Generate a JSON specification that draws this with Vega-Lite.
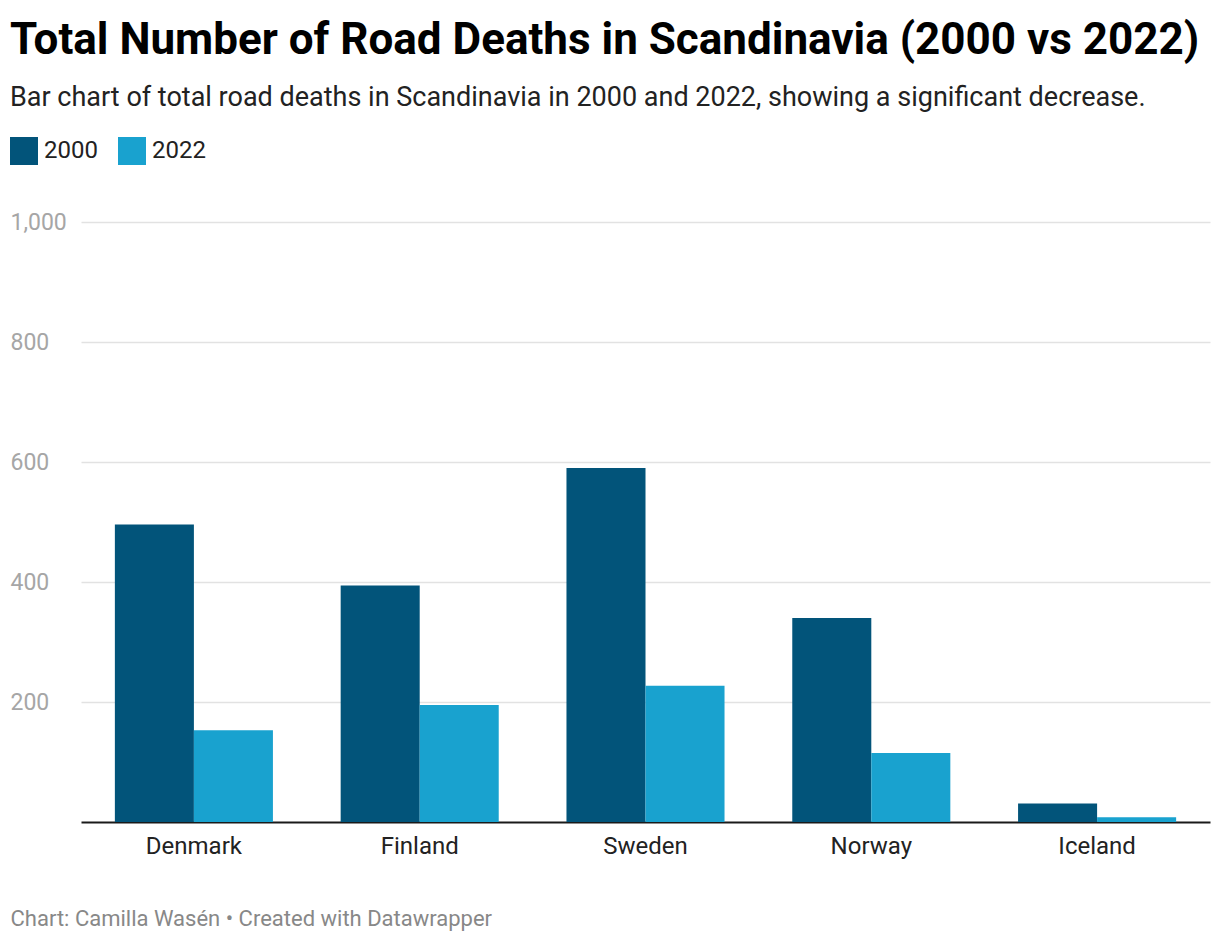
{
  "$schema": "https://vega.github.io/schema/vega-lite/v6.json",
  "width": 1129,
  "height": 600,
  "autosize": "none",
  "padding": {"left": 81, "top": 222, "right": 10, "bottom": 122},
  "background": "white",
  "config": {"font": "Roboto", "view": {"stroke": null}},
  "title": {
    "text": "Total Number of Road Deaths in Scandinavia (2000 vs 2022)",
    "subtitle": "Bar chart of total road deaths in Scandinavia in 2000 and 2022, showing a significant decrease.",
    "anchor": "start",
    "frame": "group",
    "dx": -71,
    "offset": 26,
    "fontSize": 44,
    "fontWeight": "bold",
    "color": "#000000",
    "subtitleFontSize": 27,
    "subtitleColor": "#222222",
    "subtitlePadding": 22
  },
  "data": {
    "values": [
      {"country": "Denmark", "year": "2000", "deaths": 496},
      {"country": "Denmark", "year": "2022", "deaths": 153},
      {"country": "Finland", "year": "2000", "deaths": 394},
      {"country": "Finland", "year": "2022", "deaths": 195},
      {"country": "Sweden", "year": "2000", "deaths": 590},
      {"country": "Sweden", "year": "2022", "deaths": 227},
      {"country": "Norway", "year": "2000", "deaths": 340},
      {"country": "Norway", "year": "2022", "deaths": 115},
      {"country": "Iceland", "year": "2000", "deaths": 31},
      {"country": "Iceland", "year": "2022", "deaths": 8}
    ]
  },
  "mark": {"type": "bar"},
  "encoding": {
    "x": {
      "field": "country",
      "type": "nominal",
      "sort": ["Denmark", "Finland", "Sweden", "Norway", "Iceland"],
      "scale": {"paddingInner": 0.3, "paddingOuter": 0.15},
      "axis": {
        "title": "Chart: Camilla Wasén • Created with Datawrapper",
        "titleX": -71,
        "titleY": 96,
        "titleAlign": "left",
        "titleBaseline": "middle",
        "titleFontSize": 22,
        "titleFontWeight": "normal",
        "titleColor": "#888888",
        "labelAngle": 0,
        "labelFontSize": 24,
        "labelColor": "#222222",
        "labelPadding": 12,
        "ticks": false,
        "domainColor": "#1a1a1a",
        "domainWidth": 2
      }
    },
    "xOffset": {
      "field": "year",
      "type": "nominal",
      "scale": {"paddingInner": 0}
    },
    "y": {
      "field": "deaths",
      "type": "quantitative",
      "scale": {"domain": [0, 1000]},
      "axis": {
        "title": null,
        "values": [200, 400, 600, 800, 1000],
        "format": ",d",
        "grid": true,
        "gridColor": "#e2e2e2",
        "gridWidth": 1.5,
        "ticks": false,
        "domain": false,
        "labelAlign": "left",
        "labelPadding": 71,
        "labelFontSize": 23,
        "labelColor": "#a6a6a6"
      }
    },
    "color": {
      "field": "year",
      "type": "nominal",
      "scale": {"domain": ["2000", "2022"], "range": ["#02547a", "#19a2cf"]},
      "legend": {
        "title": null,
        "orient": "none",
        "legendX": -71,
        "legendY": -85,
        "direction": "horizontal",
        "symbolType": "square",
        "symbolSize": 784,
        "symbolStrokeWidth": 0,
        "symbolOpacity": 1,
        "labelFontSize": 24,
        "labelColor": "#222222",
        "labelOffset": 6,
        "columnPadding": 20
      }
    }
  }
}
